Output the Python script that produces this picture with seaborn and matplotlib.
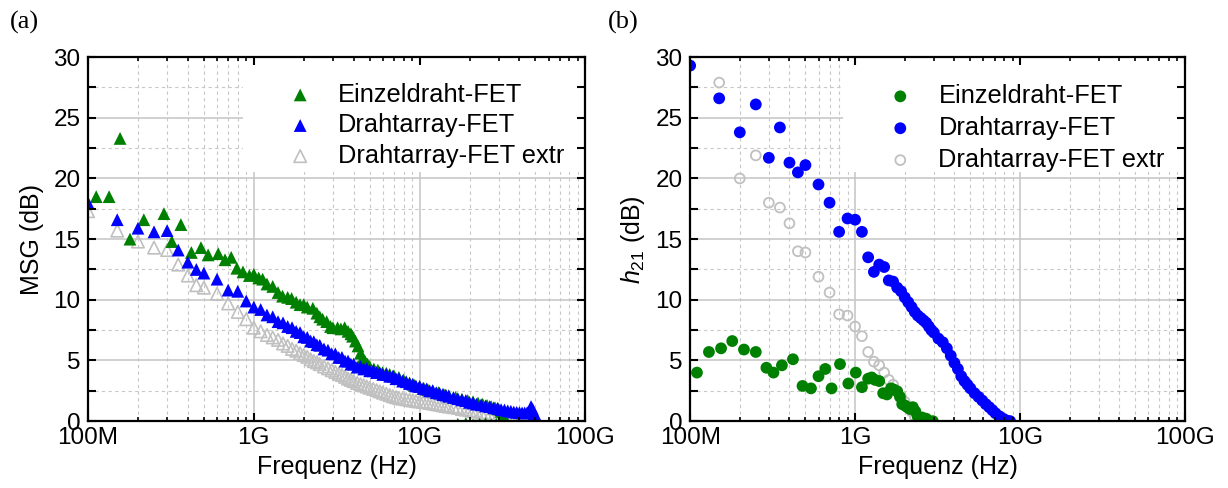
import numpy as np
import matplotlib
matplotlib.use("Agg")
import matplotlib.pyplot as plt
import seaborn as sns
from matplotlib.patches import Rectangle
from matplotlib.ticker import FixedLocator, FixedFormatter, LogLocator, MultipleLocator, NullFormatter

# ---- data: frequencies in GHz, gains in dB ----
# (a) MSG
msg_f = [0.10, 0.15, 0.20, 0.25, 0.30, 0.35, 0.40, 0.45, 0.50, 0.60,
         0.70, 0.80, 0.90, 1.00, 1.10, 1.20, 1.30, 1.40, 1.50, 1.60,
         1.70, 1.80, 1.90, 2.00, 2.10, 2.20, 2.30, 2.40, 2.50, 2.65,
         2.80, 2.95, 3.10, 3.25, 3.40, 3.55, 3.70, 3.85, 4.00, 4.20,
         4.40, 4.60, 4.80, 5.00, 5.25, 5.50, 5.75, 6.00, 6.30, 6.60,
         6.90, 7.20, 7.50, 7.90, 8.30, 8.70, 9.10, 9.50, 10.0, 10.5,
         11.0, 11.5, 12.0, 12.6, 13.2, 13.8, 14.4, 15.0, 16.0, 17.0,
         18.0, 19.0, 20.0, 21.0, 22.0, 23.5, 25.0, 26.5, 28.0, 29.5,
         31.0, 32.5, 34.0, 35.5, 37.0, 38.5, 40.0, 41.5, 43.0, 44.5,
         46.0, 47.0, 48.0, 49.0, 50.0, 51.0, 52.0]
msg_array = [18.0, 16.6, 15.9, 15.6, 15.7, 14.1, 13.1, 12.5, 12.2, 11.7,
             10.8, 10.7, 9.9, 9.4, 9.2, 8.75, 8.6, 8.2, 8.1, 7.8,
             7.7, 7.4, 7.3, 6.95, 6.9, 6.6, 6.55, 6.3, 6.25, 5.95,
             5.85, 5.55, 5.55, 5.25, 5.25, 4.95, 4.95, 4.7, 4.7, 4.45,
             4.5, 4.3, 4.35, 4.15, 4.15, 4.0, 4.0, 3.85, 3.85, 3.7,
             3.7, 3.5, 3.5, 3.3, 3.25, 3.1, 3.05, 2.9, 2.85, 2.7,
             2.65, 2.5, 2.5, 2.35, 2.3, 2.2, 2.15, 2.05, 1.95, 1.85,
             1.75, 1.7, 1.55, 1.5, 1.4, 1.35, 1.25, 1.2, 1.1, 1.05,
             0.95, 0.92, 0.85, 0.82, 0.75, 0.73, 0.7, 0.68, 0.68, 0.7,
             0.8, 1.2, 1.0, 0.6, 0.35, 0.1, 0.0]
msg_array_extr = [17.3, 15.7, 14.8, 14.3, 14.1, 12.9, 12.0, 11.2, 11.0, 10.5,
                  9.7, 9.0, 8.4, 7.7, 7.4, 7.1, 6.9, 6.7, 6.4, 6.2,
                  5.95, 5.8, 5.6, 5.45, 5.3, 5.1, 4.95, 4.85, 4.7, 4.5,
                  4.35, 4.2, 4.05, 3.9, 3.8, 3.65, 3.5, 3.4, 3.3, 3.15,
                  3.05, 2.95, 2.85, 2.75, 2.65, 2.55, 2.45, 2.35, 2.25, 2.15,
                  2.05, 1.98, 1.92, 1.85, 1.8, 1.75, 1.7, 1.65, 1.62, 1.58,
                  1.55, 1.5, 1.45, 1.4, 1.35, 1.3, 1.25, 1.2, 1.15, 1.1,
                  1.0, 0.95, 0.9, 0.85, 0.8, 0.7, 0.6, 0.5, 0.45, 0.4,
                  0.35, 0.3, 0.25, 0.2, 0.15, 0.1, 0.1, 0.05, 0.05, 0.0,
                  np.nan, np.nan, np.nan, np.nan, np.nan, np.nan, np.nan]
msg_single_f = [0.112, 0.134, 0.156, 0.179, 0.217, 0.287, 0.320, 0.363, 0.420, 0.480,
                0.530, 0.610, 0.670, 0.730, 0.790, 0.860, 0.940, 1.00, 1.07, 1.13,
                1.20, 1.30, 1.40, 1.49, 1.60, 1.69, 1.80, 1.90, 2.00, 2.10,
                2.27, 2.40, 2.50, 2.60, 2.75, 2.90, 3.00, 3.20, 3.35, 3.53,
                3.70, 3.85, 3.94, 4.10, 4.25, 4.40, 4.55, 4.70, 4.85, 5.00,
                5.30, 5.60, 5.97, 6.30, 6.60, 7.00, 7.50, 8.00, 8.70, 9.30,
                10.0, 10.6, 11.2, 12.0, 13.0, 14.0, 15.0, 16.5, 18.0, 19.5,
                21.0, 22.5, 24.0, 25.5, 27.0, 28.5, 30.0, 31.0, 32.0, 33.0,
                17.0, 19.0, 21.0, 23.0, 25.0, 27.0, 29.0, 31.0]
msg_single = [18.5, 18.5, 23.3, 15.0, 16.6, 17.1, 14.8, 16.2, 13.9, 14.3,
              13.7, 13.8, 13.3, 13.5, 12.6, 12.3, 12.0, 12.1, 11.8, 11.7,
              11.3, 11.1, 10.6, 10.3, 10.2, 10.1, 9.8, 9.6, 9.6, 9.4,
              9.3, 8.9, 8.6, 8.4, 8.2, 7.8, 7.7, 7.7, 7.6, 7.7,
              7.4, 7.2, 7.0, 6.6, 6.2, 5.6, 5.2, 4.9, 4.7, 4.5,
              4.3, 4.2, 4.0, 3.95, 3.85, 3.75, 3.6, 3.4, 3.15, 2.95,
              2.85, 2.7, 2.6, 2.5, 2.35, 2.2, 2.1, 1.95, 1.8, 1.7,
              1.6, 1.5, 1.4, 1.3, 1.2, 1.1, 1.0, 0.8, 0.45, 0.1,
              -0.25, -0.2, -0.3, -0.25, -0.2, -0.3, -0.25, -0.3]

# (b) h21
h21_single_f = [0.110, 0.130, 0.154, 0.180, 0.212, 0.250, 0.290, 0.320, 0.360, 0.420,
                0.480, 0.540, 0.600, 0.660, 0.720, 0.810, 0.910, 1.01, 1.10, 1.20,
                1.26, 1.32, 1.40, 1.48, 1.56, 1.65, 1.72, 1.80, 1.87, 1.93,
                2.00, 2.07, 2.15, 2.24, 2.32, 2.40, 2.55, 2.70, 2.96]
h21_single = [4.0, 5.7, 6.0, 6.6, 5.9, 5.7, 4.4, 4.0, 4.6, 5.1,
              2.9, 2.7, 3.7, 4.3, 2.7, 4.7, 3.1, 4.0, 2.8, 3.5,
              3.6, 3.4, 3.3, 2.3, 2.2, 2.7, 2.6, 2.45, 2.0, 1.4,
              1.3, 1.15, 1.0, 1.15, 0.8, 0.35, 0.3, 0.2, 0.0]
h21_array_f = [0.10, 0.15, 0.20, 0.25, 0.30, 0.35, 0.40, 0.45, 0.50, 0.60,
               0.70, 0.80, 0.90, 1.00, 1.10, 1.20, 1.30, 1.40, 1.50, 1.60,
               1.70, 1.80, 1.90, 2.00, 2.10, 2.20, 2.30, 2.40, 2.50, 2.60,
               2.70, 2.80, 2.90, 3.00, 3.20, 3.40, 3.60, 3.80, 4.00, 4.20,
               4.40, 4.60, 4.80, 5.00, 5.30, 5.60, 5.90, 6.20, 6.50, 6.80,
               7.10, 7.50, 7.90, 8.30, 8.70]
h21_array = [29.3, 26.6, 23.8, 26.1, 21.7, 24.2, 21.3, 20.5, 21.1, 19.5,
             18.0, 15.6, 16.7, 16.6, 15.6, 13.5, 12.3, 12.9, 12.7, 11.6,
             11.5, 11.0, 10.7, 10.2, 9.8, 9.4, 9.0, 8.7, 8.5, 8.3,
             8.1, 7.8, 7.5, 7.3, 6.8, 6.5, 6.0, 5.4, 4.8, 4.3,
             3.7, 3.3, 3.0, 2.7, 2.3, 2.0, 1.7, 1.4, 1.15, 0.9,
             0.65, 0.4, 0.2, 0.05, 0.0]
h21_extr_f = [0.15, 0.20, 0.25, 0.30, 0.35, 0.40, 0.45, 0.50, 0.60, 0.70,
              0.80, 0.90, 1.00, 1.10, 1.20, 1.30, 1.40, 1.50, 1.60, 1.70,
              1.80, 1.90, 2.00, 2.10, 2.20, 2.30, 2.40]
h21_extr = [27.9, 20.0, 21.9, 18.0, 17.6, 16.3, 14.0, 13.9, 11.9, 10.6,
            8.8, 8.7, 7.8, 7.0, 5.7, 4.9, 4.6, 4.0, 3.4, 3.0,
            2.5, 2.0, 1.6, 1.2, 0.8, 0.4, 0.1]

LABELS = ["Einzeldraht-FET", "Drahtarray-FET", "Drahtarray-FET extr"]
XTICKS = [1e8, 1e9, 1e10, 1e11]
XTICKLABELS = ["100M", "1G", "10G", "100G"]

GREEN = "#008000"
BLUE = "#0000ff"
GREY = "#c0c0c0"

sns.set_style("white")
plt.rcParams["font.family"] = ["Liberation Sans", "DejaVu Sans"]
plt.rcParams["mathtext.fontset"] = "custom"
plt.rcParams["mathtext.rm"] = "Liberation Sans"
plt.rcParams["mathtext.it"] = "Liberation Sans:italic"
plt.rcParams["text.color"] = "black"
plt.rcParams["axes.labelcolor"] = "black"
plt.rcParams["xtick.color"] = "black"
plt.rcParams["ytick.color"] = "black"

fig = plt.figure(figsize=(12.28, 4.88), dpi=100)


def hz(lst):
    return np.array(lst) * 1e9


def style_axes(ax, pos, ylabel, rect_x, leg_xy, leg_spacing):
    ax.set_xscale("log")
    ax.set_xlim(1e8, 1e11)
    ax.set_ylim(0, 30)
    ax.xaxis.set_major_locator(FixedLocator(XTICKS))
    ax.xaxis.set_major_formatter(FixedFormatter(XTICKLABELS))
    ax.xaxis.set_minor_locator(LogLocator(base=10, subs=np.arange(2, 10), numticks=30))
    ax.xaxis.set_minor_formatter(NullFormatter())
    ax.yaxis.set_major_locator(MultipleLocator(5))
    ax.yaxis.set_minor_locator(MultipleLocator(2.5))
    ax.set_axisbelow(True)
    ax.grid(which="major", color="#c4c4c4", lw=1.1, ls="-")
    ax.grid(which="minor", color="#c8c8c8", lw=0.8, ls=(0, (3, 3)))
    ax.tick_params(which="both", length=0, labelsize=17.5, labelcolor="black")
    ax.tick_params(axis="y", pad=5.5)
    ax.tick_params(axis="x", pad=4)
    for s in ax.spines.values():
        s.set_visible(False)
    # white box behind the legend hides the grid there
    ax.add_patch(Rectangle((rect_x, 0.684), 1 - rect_x, 0.4, transform=ax.transAxes,
                           facecolor="white", edgecolor="none", zorder=0.8))
    ax.set_xlabel("Frequenz (Hz)", fontsize=18, color="black")
    ax.set_ylabel(ylabel, fontsize=18, color="black")
    ax.xaxis.set_label_coords(0.5, -0.094)
    ax.yaxis.set_label_coords(-0.088, 0.5)

    handles, labels = ax.get_legend_handles_labels()
    order = [labels.index(l) for l in LABELS]
    leg = ax.legend([handles[i] for i in order], LABELS, loc="upper left",
                    bbox_to_anchor=leg_xy, frameon=False, fontsize=18.3,
                    handlelength=1.0, handletextpad=1.0, labelspacing=leg_spacing,
                    borderpad=0, borderaxespad=0)
    for t in leg.get_texts():
        t.set_color("black")

    # overlay axes for spines and inward ticks on top of the white box
    ov = fig.add_axes(pos, sharex=ax, sharey=ax)
    ov.patch.set_visible(False)
    ov.grid(False)
    for s in ov.spines.values():
        s.set_visible(True)
        s.set_color("black")
        s.set_linewidth(1.6)
    ov.tick_params(which="both", direction="in", color="black", bottom=True, top=True,
                   left=True, right=True, labelbottom=False, labelleft=False)
    ov.tick_params(axis="x", which="major", length=5.5, width=1.5)
    ov.tick_params(axis="x", which="minor", length=3.2, width=1.2)
    ov.tick_params(axis="y", which="both", length=6, width=1.5)
    return ov


# ---- (a) MSG ----
pos_a = [0.0717, 0.137, 0.405, 0.746]
ax1 = fig.add_axes(pos_a)
sns.scatterplot(x=hz(msg_f), y=msg_array_extr, ax=ax1, marker="^", s=80, color=GREY,
                facecolor="none", edgecolor=GREY, linewidth=1.2, label=LABELS[2], zorder=2)
sns.scatterplot(x=hz(msg_single_f), y=msg_single, ax=ax1, marker="^", s=85, color=GREEN,
                edgecolor="none", linewidth=0, label=LABELS[0], zorder=3)
sns.scatterplot(x=hz(msg_f), y=msg_array, ax=ax1, marker="^", s=85, color=BLUE,
                edgecolor="none", linewidth=0, label=LABELS[1], zorder=4)
style_axes(ax1, pos_a, "MSG (dB)", 0.312, (0.401, 0.930), 0.26)

# ---- (b) h21 ----
pos_b = [0.562, 0.137, 0.403, 0.746]
ax2 = fig.add_axes(pos_b)
sns.scatterplot(x=hz(h21_extr_f), y=h21_extr, ax=ax2, marker="o", s=50, color=GREY,
                facecolor="none", edgecolor=GREY, linewidth=1.3, label=LABELS[2], zorder=2)
sns.scatterplot(x=hz(h21_array_f), y=h21_array, ax=ax2, marker="o", s=72, color=BLUE,
                edgecolor="none", linewidth=0, label=LABELS[1], zorder=3)
sns.scatterplot(x=hz(h21_single_f), y=h21_single, ax=ax2, marker="o", s=72, color=GREEN,
                edgecolor="none", linewidth=0, label=LABELS[0], zorder=4)
style_axes(ax2, pos_b, r"$h_{21}$ (dB)", 0.309, (0.399, 0.926), 0.31)

fig.text(0.008, 0.955, "(a)", family="Liberation Serif", fontsize=19, va="center")
fig.text(0.495, 0.955, "(b)", family="Liberation Serif", fontsize=19, va="center")

fig.savefig("out.png", dpi=100)
